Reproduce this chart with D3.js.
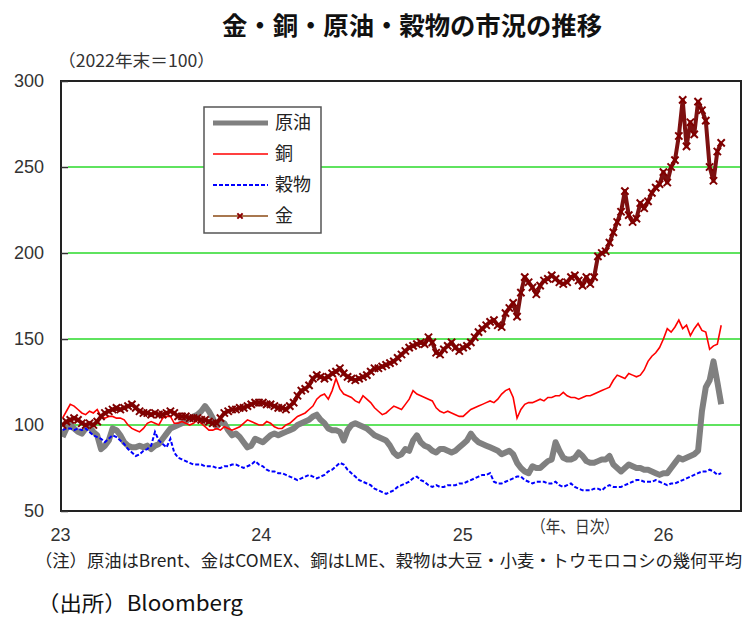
<!DOCTYPE html>
<html>
<head>
<meta charset="utf-8">
<script src="https://cdn.jsdelivr.net/npm/d3@7"></script>
<style>
  body { margin: 0; background: #fff; }
  text { font-family: "Noto Sans CJK JP", "Noto Sans", sans-serif; }
</style>
</head>
<body>
<div class="chart"></div>
<script>
var svgWidth = 744;
var svgHeight = 619;

// plot frame in page pixels
var plot = { left: 61, top: 81, right: 741, bottom: 511 };

// weekly readings (index 0 = 2023-01-02), 2022年末=100
var startDate = "2023-01-02";

var oil = [
  93, 98, 100, 98, 96, 95, 98, 99, 96, 94,
  86, 88, 91, 98, 97, 94, 90, 88, 87, 87,
  88, 87, 88, 86, 88, 89, 92, 95, 98, 99,
  100, 101, 102, 104, 105, 106, 108, 111, 108, 104,
  99, 102, 101, 97, 94, 95, 93, 90, 87, 88,
  92, 91, 90, 92, 94, 95, 94, 95, 96, 97,
  98, 100, 101, 102, 103, 105, 106, 103, 101, 98,
  97, 97, 96, 91, 97, 100, 101, 100, 99, 98,
  96, 94, 93, 92, 91, 88, 84, 82, 83, 86,
  85, 91, 94, 90, 88, 87, 85, 84, 86, 86,
  85, 84, 85, 87, 89, 91, 95, 92, 90, 89,
  88, 87, 86, 85, 83, 84, 85, 83, 78, 75,
  73, 72, 76, 75, 75, 77, 79, 80, 90, 85,
  81, 80, 80, 81, 84, 82, 79, 78, 78, 79,
  80, 80, 82, 77, 75, 73, 75, 77, 76, 75,
  75, 74, 74, 73, 72, 71, 72, 72, 75, 78,
  81, 80, 81, 82, 83, 85, 108, 122, 126, 137,
  125, 112
];

var copper = [
  104, 108, 112, 111, 109, 107, 106, 108, 107, 109,
  105, 104, 105, 105, 104, 104, 103, 100, 98, 97,
  96, 98, 101, 102, 101, 100, 104, 105, 105, 101,
  101, 102, 101, 100, 101, 103, 101, 99, 97, 97,
  98, 97, 99, 98, 97, 98, 99, 101, 103, 102,
  101, 100, 100, 102, 101, 99, 98, 98, 100, 101,
  103, 105, 106, 107, 109, 111, 115, 117, 118, 115,
  120, 127, 121, 118, 117, 116, 114, 113, 117, 115,
  113, 110, 108, 106, 107, 109, 111, 110, 109, 112,
  115, 120, 118, 117, 116, 115, 114, 110, 108, 107,
  108, 107, 106, 105, 105, 107, 109, 110, 111, 112,
  113, 114, 113, 115, 118, 120, 121, 116, 104, 109,
  112, 113, 113, 114, 115, 114, 116, 116, 117, 117,
  119, 117, 116, 116, 115, 116, 117, 117, 118, 119,
  120, 121, 122, 126, 129, 128, 127, 130, 129, 128,
  129, 132, 137, 140, 142, 145, 150, 156, 154, 157,
  161, 156, 158, 152, 156, 159, 155, 154, 144, 146,
  147, 158
];

var grain = [
  97, 98, 98, 97, 98, 97, 98, 96, 94, 93,
  92, 90, 92, 94, 93, 91, 89, 86, 84, 82,
  83, 85, 86, 88, 96, 91, 89, 87, 92, 84,
  81, 80, 79, 78, 77, 77, 77, 76, 76, 76,
  75, 75, 76, 76, 77, 77, 76, 75, 76, 77,
  79, 77, 76, 74, 73, 73, 72, 72, 71, 70,
  69, 68, 69, 70, 71, 70, 69, 70, 71, 73,
  74, 76, 78, 77, 74, 72, 70, 68, 67, 66,
  65, 63, 62, 61, 60, 61, 62, 64, 65, 66,
  67, 69, 70, 68, 67, 65, 64, 65, 64, 64,
  65, 65, 65, 66, 66, 67, 68, 69, 70, 71,
  71, 72, 67, 66, 66, 67, 68, 69, 70, 70,
  68, 67, 66, 67, 67, 67, 66, 66, 67, 65,
  64, 65, 66, 64, 63, 62, 62, 62, 63, 63,
  62, 64, 65, 64, 64, 64, 65, 66, 67, 68,
  68, 67, 67, 67, 68, 67, 66, 65, 66, 66,
  67, 68, 69, 70, 71, 72, 73, 73, 74, 73,
  71, 72
];

var gold = [
  100, 102, 103, 104, 103, 101, 100, 101, 100, 102,
  105, 107, 108, 109, 110, 109, 110, 111, 112, 110,
  108, 107, 107, 106, 107, 106, 106, 107, 108, 107,
  105, 105, 105, 104, 104, 104, 103, 103, 102, 101,
  101, 104, 107, 108, 109, 109, 110, 110, 111, 112,
  113, 113, 113, 112, 112, 111, 110, 110, 109, 111,
  113, 117, 120, 121, 123, 127, 129, 128, 127, 128,
  130, 131, 133, 130, 128, 127, 126, 127, 128, 129,
  131, 133, 133, 134, 135, 136, 137, 139, 141, 143,
  145, 146, 147, 148, 147, 151, 148, 142, 141, 144,
  146, 148, 145, 143, 145, 146, 148, 151, 154, 156,
  158, 160, 161, 158, 157, 165, 168, 171, 163, 177,
  186, 183, 180, 176, 181, 184, 185, 187, 185, 183,
  182, 183, 186, 187, 184, 181, 186, 182, 186, 198,
  200, 201, 206, 212, 218, 224, 236, 222, 218, 220,
  229, 226, 230, 235, 238, 240, 247, 241, 250, 254,
  268, 289, 262, 276, 269, 288, 283, 277, 250, 242,
  259, 264
];

var seriesNames = ["原油", "銅", "穀物", "金"];
var yTicks = [50, 100, 150, 200, 250, 300];
var gridValues = [100, 150, 200, 250];
var xTickDates = ["2023-01-01", "2024-01-01", "2025-01-01", "2026-01-01"];
var xLabels = ["23", "24", "25", "26"];

var parseDate = d3.timeParse("%Y-%m-%d");
var weeks = oil.map(function(d, i) {
  return d3.timeDay.offset(parseDate(startDate), 7 * i);
});

var svg = d3.select(".chart")
  .append("svg")
  .attr("width", svgWidth)
  .attr("height", svgHeight);

var x = d3.scaleTime()
  .domain([parseDate("2023-01-01"), parseDate("2026-05-19")])
  .range([62, plot.right]);

var y = d3.scaleLinear()
  .domain([50, 300])
  .range([plot.bottom, plot.top]);

// title + unit
svg.append("text")
  .attr("x", 412)
  .attr("y", 35)
  .attr("text-anchor", "middle")
  .attr("font-size", "25px")
  .attr("font-weight", "bold")
  .attr("fill", "#111")
  .attr("textLength", 380)
  .attr("lengthAdjust", "spacingAndGlyphs")
  .text("金・銅・原油・穀物の市況の推移");

svg.append("text")
  .attr("x", 58)
  .attr("y", 67)
  .attr("font-size", "17px")
  .attr("fill", "#333")
  .attr("textLength", 157)
  .attr("lengthAdjust", "spacingAndGlyphs")
  .text("（2022年末＝100）");

// frame
svg.append("rect")
  .attr("x", plot.left)
  .attr("y", plot.top)
  .attr("width", plot.right - plot.left)
  .attr("height", plot.bottom - plot.top)
  .attr("fill", "#fff")
  .attr("stroke", "#222")
  .attr("stroke-width", 2);

// green gridlines
svg.append("g")
  .selectAll("line")
  .data(gridValues)
  .enter().append("line")
    .attr("x1", plot.left + 7)
    .attr("x2", plot.right - 1)
    .attr("y1", function(d) { return y(d); })
    .attr("y2", function(d) { return y(d); })
    .attr("stroke", "#5fe35f")
    .attr("stroke-width", 2);

// y axis: short inside ticks, labels on the left
var leftAxis = d3.axisLeft(y)
  .tickValues(yTicks)
  .tickSize(-7)
  .tickPadding(17);

var yAxisG = svg.append("g")
  .attr("transform", "translate(" + plot.left + ",0)")
  .call(leftAxis);
yAxisG.select(".domain").remove();
yAxisG.selectAll(".tick line").attr("stroke", "#333").attr("stroke-width", 1.5);
yAxisG.selectAll("text")
  .attr("font-size", "18px")
  .attr("fill", "#333")
  .style("font-family", "'Liberation Sans', Arial, sans-serif");

// x axis labels
var bottomAxis = d3.axisBottom(x)
  .tickValues(xTickDates.map(parseDate))
  .tickFormat(function(d, i) { return xLabels[i]; })
  .tickSize(0)
  .tickPadding(17);

var xAxisG = svg.append("g")
  .attr("transform", "translate(-2," + plot.bottom + ")")
  .call(bottomAxis);
xAxisG.select(".domain").remove();
xAxisG.selectAll("text")
  .attr("font-size", "18px")
  .attr("fill", "#333")
  .style("font-family", "'Liberation Sans', Arial, sans-serif");

svg.append("text")
  .attr("x", 531)
  .attr("y", 533)
  .attr("font-size", "17px")
  .attr("fill", "#333")
  .attr("textLength", 88)
  .attr("lengthAdjust", "spacingAndGlyphs")
  .text("（年、日次）");

// clip to frame
svg.append("clipPath").attr("id", "clip")
  .append("rect")
  .attr("x", plot.left + 1)
  .attr("y", plot.top + 1)
  .attr("width", plot.right - plot.left - 2)
  .attr("height", plot.bottom - plot.top - 2);

var chart = svg.append("g").attr("clip-path", "url(#clip)");

function lineFor(values) {
  return d3.line()
    .x(function(d, i) { return x(weeks[i]); })
    .y(function(d) { return y(d); })(values);
}

chart.append("path")
  .attr("d", lineFor(oil))
  .attr("fill", "none")
  .attr("stroke", "#808080")
  .attr("stroke-width", 6)
  .attr("stroke-linejoin", "round");

chart.append("path")
  .attr("d", lineFor(copper))
  .attr("fill", "none")
  .attr("stroke", "#ff0000")
  .attr("stroke-width", 1.6);

chart.append("path")
  .attr("d", lineFor(grain))
  .attr("fill", "none")
  .attr("stroke", "#0000ff")
  .attr("stroke-width", 2)
  .attr("stroke-dasharray", "4,2");

// gold: dense daily markers in the original read as a thick maroon band
chart.append("path")
  .attr("d", lineFor(gold))
  .attr("fill", "none")
  .attr("stroke", "#7d1010")
  .attr("stroke-width", 4)
  .attr("stroke-linejoin", "round");

var cross = d3.symbol().type(d3.symbolX).size(36);
chart.append("g")
  .selectAll("path")
  .data(gold)
  .enter().append("path")
    .attr("d", cross)
    .attr("transform", function(d, i) {
      return "translate(" + x(weeks[i]) + "," + y(d) + ")";
    })
    .attr("fill", "none")
    .attr("stroke", "#800000")
    .attr("stroke-width", 2);

// legend
var legend = svg.append("g");
legend.append("rect")
  .attr("x", 204)
  .attr("y", 107)
  .attr("width", 117)
  .attr("height", 126)
  .attr("fill", "#fff")
  .attr("stroke", "#555")
  .attr("stroke-width", 1.5);

var legendStyles = [
  { color: "#808080", width: 5, dash: null },
  { color: "#ff0000", width: 1.6, dash: null },
  { color: "#0000ff", width: 2, dash: "4,2" },
  { color: "#8b4a14", width: 1.5, dash: null }
];
var legendY = [123, 154, 185, 216];

seriesNames.forEach(function(name, i) {
  legend.append("line")
    .attr("x1", 213).attr("x2", 268)
    .attr("y1", legendY[i]).attr("y2", legendY[i])
    .attr("stroke", legendStyles[i].color)
    .attr("stroke-width", legendStyles[i].width)
    .attr("stroke-dasharray", legendStyles[i].dash);
  legend.append("text")
    .attr("x", 275)
    .attr("y", legendY[i] + 6)
    .attr("font-size", "18px")
    .attr("fill", "#222")
    .text(name);
});
legend.append("path")
  .attr("d", d3.symbol().type(d3.symbolX).size(20))
  .attr("transform", "translate(240," + legendY[3] + ")")
  .attr("fill", "none")
  .attr("stroke", "#8b0000")
  .attr("stroke-width", 2);

// notes
svg.append("text")
  .attr("x", 35)
  .attr("y", 567)
  .attr("font-size", "17px")
  .attr("fill", "#222")
  .attr("textLength", 707)
  .attr("lengthAdjust", "spacingAndGlyphs")
  .text("（注）原油はBrent、金はCOMEX、銅はLME、穀物は大豆・小麦・トウモロコシの幾何平均");

svg.append("text")
  .attr("x", 37)
  .attr("y", 611)
  .attr("font-size", "21px")
  .attr("fill", "#111")
  .attr("textLength", 206)
  .attr("lengthAdjust", "spacingAndGlyphs")
  .text("（出所）Bloomberg");
</script>
</body>
</html>
